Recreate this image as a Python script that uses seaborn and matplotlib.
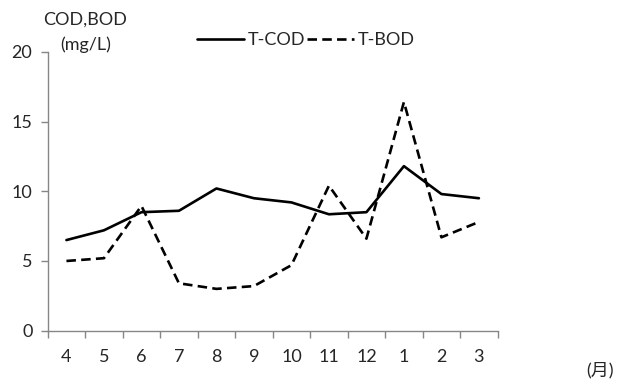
import matplotlib
matplotlib.use("Agg")
import matplotlib.pyplot as plt
from matplotlib.lines import Line2D
import seaborn as sns
import pandas as pd

months = ["4", "5", "6", "7", "8", "9", "10", "11", "12", "1", "2", "3"]
t_cod = [6.5, 7.2, 8.5, 8.6, 10.2, 9.5, 9.2, 8.35, 8.5, 11.8, 9.8, 9.5]
t_bod = [5.0, 5.2, 8.95, 3.4, 3.0, 3.2, 4.7, 10.4, 6.6, 16.4, 6.7, 7.8]
y_ticks = [0, 5, 10, 15, 20]

sns.set_theme(style="white")
plt.rcParams["font.family"] = ["Lato", "Noto Sans CJK JP", "DejaVu Sans"]

pos = list(range(len(months)))
df = pd.DataFrame({
    "pos": pos * 2,
    "value": t_cod + t_bod,
    "series": ["T-COD"] * len(months) + ["T-BOD"] * len(months),
})

fig = plt.figure(figsize=(6.17, 3.81), dpi=100)
ax = fig.add_axes([0.0773, 0.132, 0.7293, 0.732])

sns.lineplot(data=df, x="pos", y="value", style="series", color="black",
             dashes={"T-COD": "", "T-BOD": (3.6, 2.0)}, linewidth=1.9,
             ax=ax, legend=False, sort=False)

axis_grey = "#868686"
fs = 13
ax.set_xlim(-0.5, len(months) - 0.5)
ax.set_ylim(0, 20)
ax.set_yticks(y_ticks)
ax.set_yticklabels([str(v) for v in y_ticks])
ax.set_xticks([i - 0.5 for i in range(len(months) + 1)])
ax.set_xticklabels([])
ax.set_xticks(pos, minor=True)
ax.set_xticklabels(months, minor=True)
ax.tick_params(axis="x", which="major", direction="out", length=5,
               color=axis_grey, width=1, bottom=True)
ax.tick_params(axis="x", which="minor", length=0, pad=13, labelsize=fs)
ax.tick_params(axis="y", direction="out", length=5, color=axis_grey,
               width=1, left=True, labelsize=fs, pad=6)
ax.set_xlabel("")
ax.set_ylabel("")
for side in ["top", "right"]:
    ax.spines[side].set_visible(False)
for side in ["left", "bottom"]:
    ax.spines[side].set_color(axis_grey)
    ax.spines[side].set_linewidth(1)

handles = [
    Line2D([], [], color="black", linewidth=1.9),
    Line2D([], [], color="black", linewidth=1.9, dashes=(3.6, 2.0)),
]
fig.legend(handles, ["T-COD", "T-BOD"], loc="center", ncol=2,
           bbox_to_anchor=(306 / 617, 1 - 40 / 381), frameon=False,
           fontsize=fs, handlelength=2.6, handletextpad=0.2,
           columnspacing=0.1)

fig.text(85 / 617, 1 - 20 / 381, "COD,BOD", ha="center", va="center", fontsize=fs)
fig.text(86 / 617, 1 - 45 / 381, "(mg/L)", ha="center", va="center", fontsize=fs)
fig.text(600 / 617, 1 - 370 / 381, "(月)", ha="center", va="center", fontsize=fs)

fig.savefig("out.png", dpi=100)
